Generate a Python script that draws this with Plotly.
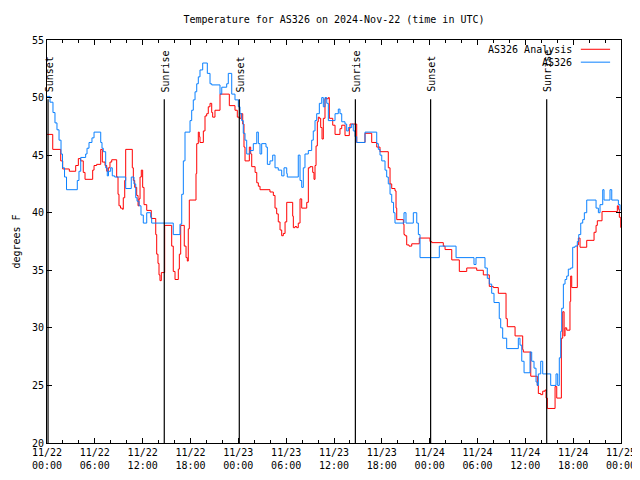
import pandas as pd
import plotly.graph_objects as go

# ---- data (hours since 2024-11-22 00:00 UTC, temperature in F) ----
obs_hours = [0.00, 0.38, 0.75, 1.00, 1.25, 1.51, 1.76, 1.94, 2.20, 2.45, 3.80, 4.01, 4.23, 4.85, 5.02,
             5.27, 5.64, 5.90, 6.74, 6.90, 7.06, 7.36, 7.56, 7.71, 7.99, 8.19, 8.49, 9.87, 10.57, 10.91,
             11.13, 11.29, 11.54, 11.79, 12.08, 12.51, 13.01, 13.13, 15.84, 16.68, 16.90, 17.10, 17.31,
             17.94, 18.15, 18.35, 18.57, 18.78, 18.98, 19.19, 19.53, 20.11, 20.45, 20.66, 21.70, 21.92,
             22.54, 22.74, 23.17, 23.58, 24.00, 24.21, 24.42, 24.62, 24.84, 25.05, 25.46, 25.88, 26.31,
             26.51, 26.72, 26.93, 27.47, 27.64, 27.97, 28.31, 28.60, 29.01, 29.44, 29.73, 30.07, 30.14,
             31.52, 31.74, 31.95, 32.15, 32.36, 32.78, 33.20, 33.40, 33.62, 33.83, 34.16, 34.46, 34.66,
             34.87, 35.09, 35.29, 36.13, 36.54, 36.75, 36.97, 37.38, 37.59, 37.80, 38.22, 38.42, 38.64,
             38.85, 39.89, 41.36, 41.56, 41.77, 41.99, 42.40, 42.61, 42.81, 43.03, 43.24, 43.47, 43.65,
             44.78, 45.03, 45.95, 46.38, 46.58, 46.79, 49.21, 51.31, 53.56, 53.81, 54.94, 55.23, 55.48,
             55.78, 56.07, 56.73, 56.91, 57.16, 57.66, 59.12, 59.33, 59.55, 59.84, 60.59, 60.80, 61.09,
             61.34, 61.50, 61.63, 61.93, 62.18, 63.18, 63.85, 64.06, 64.26, 64.44, 64.56, 64.77, 64.98,
             65.19, 65.39, 65.69, 65.94, 66.23, 66.52, 66.70, 66.95, 67.20, 67.40, 67.70, 68.87, 69.16,
             69.37, 69.71, 69.87, 70.62, 70.84, 71.67, 71.88]
obs_temp = [50.1, 49.6, 48.7, 47.8, 47.2, 46.3, 45.1, 43.9, 43.1, 42.0, 42.8, 43.6, 44.8, 45.1, 45.6,
            46.1, 46.5, 47.0, 46.1, 45.6, 45.3, 43.9, 43.2, 43.6, 43.9, 43.2, 43.1, 42.1, 43.1, 42.5,
            41.3, 41.0, 40.6, 39.8, 39.1, 40.0, 39.6, 39.1, 38.1, 39.0, 41.6, 44.5, 47.0,
            48.0, 48.9, 49.8, 50.5, 51.2, 51.8, 52.4, 53.0, 52.1, 51.2, 51.1, 50.3, 50.9,
            51.2, 52.1, 50.3, 49.8, 49.2, 48.6, 48.0, 46.9, 46.3, 45.1, 45.4, 46.0, 47.0,
            46.0, 45.1, 46.0, 45.7, 44.2, 44.5, 45.0, 43.9, 43.7, 43.2, 43.9, 43.4, 43.1,
            45.0, 42.8, 42.2, 43.9, 45.1, 45.4, 46.3, 47.1, 48.0, 48.6, 49.5, 50.0, 49.2,
            50.0, 49.5, 48.0, 48.6, 49.0, 48.6, 47.9, 47.7, 47.1, 47.4, 47.7, 47.1, 46.6,
            46.1, 47.0, 46.0, 45.5, 45.0, 44.5, 43.7, 43.1, 42.5, 41.6, 40.9, 40.0, 39.1,
            40.0, 39.1, 40.0, 39.1, 38.1, 36.1, 37.1, 36.1, 35.5, 36.1, 35.2, 34.3, 33.8,
            33.0, 32.2, 30.8, 30.0, 29.1, 28.2, 29.1, 28.5, 27.1, 26.1, 27.9, 27.1, 26.5,
            25.3, 25.0, 26.0, 27.1, 26.0, 25.0, 26.0, 25.0, 27.4, 29.7, 31.7, 33.8, 34.2,
            34.5, 35.1, 35.2, 37.0, 37.1, 37.5, 38.1, 39.1, 39.4, 40.0, 41.1, 40.4, 40.0,
            40.7, 42.0, 41.1, 42.0, 41.1, 40.7, 40.2]

ana_hours = [0.00, 0.72, 1.72, 1.97, 2.80, 3.60, 3.93, 4.23, 4.55, 4.77, 5.73, 5.90, 6.23, 6.74, 6.94,
             7.28, 7.49, 7.69, 7.90, 8.12, 8.74, 8.91, 9.03, 9.22, 9.45, 9.57, 9.75, 9.87, 10.70, 10.83,
             11.00, 11.25, 11.42, 11.54, 11.67, 11.83, 12.00, 12.17, 12.51, 13.08, 13.64, 13.76, 13.92,
             14.05, 14.17, 14.34, 14.76, 15.64, 15.84, 16.06, 16.47, 16.60, 16.77, 17.22, 17.44, 17.60,
             17.72, 17.85, 18.69, 18.78, 18.98, 19.10, 19.19, 19.61, 19.82, 20.03, 20.23, 20.45, 20.66,
             20.78, 21.07, 21.70, 22.87, 23.58, 23.87, 24.12, 24.34, 24.55, 24.71, 24.84, 25.38, 25.55,
             25.68, 26.10, 26.31, 26.51, 26.72, 27.97, 28.39, 28.60, 28.81, 29.01, 29.23, 29.44, 29.64,
             29.86, 30.07, 30.82, 30.90, 31.11, 31.32, 31.52, 31.74, 31.95, 32.58, 32.78, 32.99, 33.33,
             33.49, 33.62, 33.75, 33.91, 34.03, 34.16, 34.33, 34.50, 34.66, 34.87, 35.29, 35.41, 35.84,
             36.13, 36.75, 36.97, 37.38, 37.92, 38.01, 38.85, 39.89, 40.73, 41.36, 41.77, 42.81, 43.03,
             43.24, 43.65, 43.78, 43.87, 44.70, 44.78, 44.91, 45.12, 45.41, 45.75, 46.70, 48.04, 48.26,
             49.71, 49.93, 50.77, 51.72, 52.65, 53.90, 54.73, 55.48, 55.98, 56.61, 57.58, 57.74, 58.71,
             59.67, 59.75, 60.68, 61.50, 61.63, 61.93, 62.18, 62.47, 62.60, 62.76, 63.73, 63.94, 64.52,
             64.69, 64.86, 64.98, 65.19, 65.60, 65.69, 65.82, 66.52, 66.65, 66.86, 67.70, 68.62, 68.87,
             69.03, 69.62, 71.54, 71.67, 71.79, 71.97]
ana_temp = [46.8, 45.5, 44.5, 43.8, 43.6, 44.1, 44.7, 44.5, 43.5, 42.9, 43.7, 44.1, 44.2, 45.5, 44.4,
            44.1, 43.6, 43.9, 44.4, 44.6, 43.1, 41.6, 40.6, 40.4, 40.3, 41.3, 42.8, 45.5, 43.9, 42.8,
            42.2, 41.5, 40.6, 41.2, 43.1, 43.7, 42.2, 40.7, 40.2, 39.5, 38.1, 36.4, 35.6,
            34.6, 34.1, 34.8, 38.9, 37.1, 34.9, 34.2, 35.1, 36.4, 38.9, 37.1, 36.1, 35.8,
            38.6, 41.1, 43.4, 46.0, 47.0, 46.6, 46.1, 47.1, 48.4, 48.6, 49.2, 49.5, 48.7,
            48.3, 48.9, 50.3, 49.3, 48.9, 48.3, 48.2, 48.6, 47.7, 45.7, 44.5, 45.7, 45.1,
            44.0, 43.5, 42.6, 42.3, 42.0, 41.8, 41.5, 40.4, 39.9, 39.2, 38.5, 38.0, 38.2,
            39.2, 40.9, 39.7, 38.7, 38.8, 38.7, 39.1, 41.2, 40.4, 40.9, 43.9, 44.0, 43.5,
            42.9, 44.1, 45.8, 47.9, 48.3, 48.2, 47.4, 46.4, 48.2, 49.9, 50.0, 48.2, 47.6,
            46.8, 47.3, 47.6, 46.7, 47.3, 47.7, 46.1, 46.9, 46.1, 45.7, 45.3, 43.9, 42.5,
            42.1, 41.9, 40.4, 39.4, 39.0, 38.1, 38.0, 37.2, 37.1, 37.3, 37.8, 37.5, 37.4,
            37.1, 36.8, 35.9, 34.9, 35.2, 35.0, 34.6, 33.6, 33.5, 33.0, 30.8, 30.1, 29.3,
            28.1, 27.9, 25.8, 25.0, 24.3, 24.2, 24.5, 24.6, 23.9, 23.0, 24.9, 23.9, 29.1,
            31.4, 29.3, 30.0, 29.8, 32.3, 34.5, 33.5, 37.2, 37.8, 37.0, 37.6, 38.3, 38.9,
            39.3, 40.1, 40.6, 40.3, 39.6, 38.7]

sun_labels = ["Sunset", "Sunrise", "Sunset", "Sunrise", "Sunset", "Sunrise"]
sun_hours = [0.13, 14.71, 24.12, 38.68, 48.12, 62.68]

series_names = ["AS326 Analysis", "AS326"]
series_colors = ["#ff0000", "#0a80ff"]

base = pd.Timestamp("2024-11-22 00:00")
def to_time(hours):
    return [base + pd.Timedelta(hours=h) for h in hours]

FONT = "DejaVu Sans Mono"
W, H = 640, 480
fig = go.Figure()
fig.add_trace(go.Scatter(x=to_time(ana_hours), y=ana_temp, mode="lines", line_shape="hv",
                         line=dict(color=series_colors[0], width=1), name=series_names[0], showlegend=False))
fig.add_trace(go.Scatter(x=to_time(obs_hours), y=obs_temp, mode="lines", line_shape="hv",
                         line=dict(color=series_colors[1], width=1), name=series_names[1], showlegend=False))

line_top = 0.853
for lab, t in zip(sun_labels, to_time(sun_hours)):
    fig.add_shape(type="line", xref="x", yref="paper", x0=t, x1=t, y0=0, y1=line_top,
                  line=dict(color="black", width=1.2))
    fig.add_annotation(x=t, y=line_top, xref="x", yref="paper", text=lab, showarrow=False,
                       textangle=-90, xanchor="center", yanchor="bottom", xshift=1, yshift=5,
                       font=dict(family=FONT, size=10, color="black"))

# manual gnuplot-style key (text then sample)
key_y = [0.977, 0.945]
for name, col, ky in zip(series_names, series_colors, key_y):
    fig.add_annotation(x=0.918, y=ky, xref="paper", yref="paper", text=name, showarrow=False,
                       xanchor="right", yanchor="middle", font=dict(family=FONT, size=10, color="black"))
    fig.add_shape(type="line", xref="paper", yref="paper", x0=0.930, x1=0.981, y0=ky, y1=ky,
                  line=dict(color=col, width=1))

fig.add_annotation(x=-0.067, y=0.5, xref="paper", yref="paper", text="degrees F", showarrow=False,
                   textangle=-90, font=dict(family=FONT, size=10, color="black"))

fig.update_layout(
    width=W, height=H,
    margin=dict(l=39, r=19, t=32, b=45),
    paper_bgcolor="white", plot_bgcolor="white",
    font=dict(family=FONT, size=10, color="black"),
    title=dict(text="Temperature for AS326 on 2024-Nov-22 (time in UTC)", x=0.5, xref="paper",
               y=1 - 11 / H, yref="container", yanchor="middle",
               font=dict(family=FONT, size=10, color="black")),
    showlegend=False,
)
fig.update_xaxes(type="date", range=[base, base + pd.Timedelta(hours=72)],
                 tick0=base, dtick=6 * 3600 * 1000, tickformat="%m/%d<br>%H:%M",
                 ticks="inside", ticklen=5, tickcolor="black", showline=True, linecolor="black",
                 linewidth=1, mirror="allticks", showgrid=False, zeroline=False,
                 minor=dict(dtick=2 * 3600 * 1000, ticks="inside", ticklen=3, tickcolor="black"))
fig.update_yaxes(range=[20, 55], dtick=5, ticks="inside", ticklen=5, tickcolor="black",
                 showline=True, linecolor="black", linewidth=1, mirror="allticks",
                 showgrid=False, zeroline=False)

fig.write_html("out.html")
